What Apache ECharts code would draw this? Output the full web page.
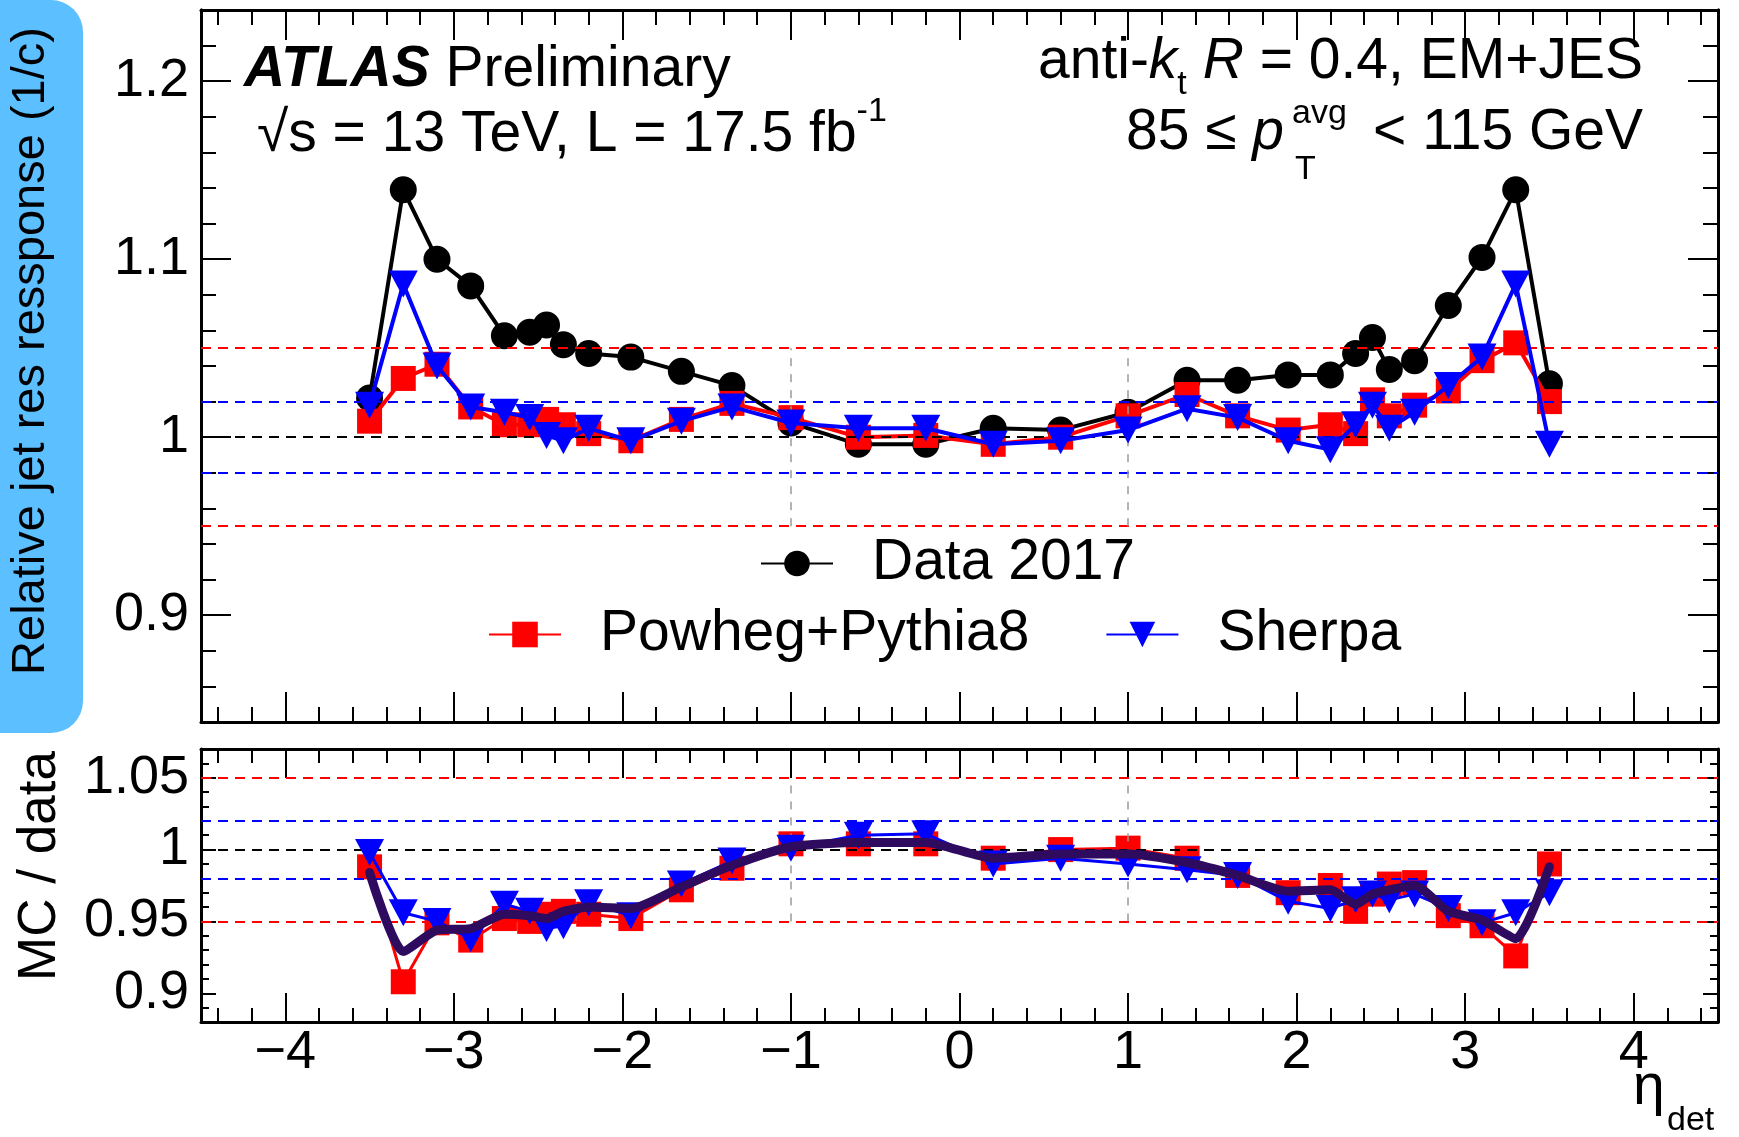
<!DOCTYPE html>
<html>
<head>
<meta charset="utf-8">
<script src="https://cdn.jsdelivr.net/npm/echarts@6/dist/echarts.min.js"></script>
<style>
html,body{margin:0;padding:0;background:#fff;}
#chart{width:1739px;height:1137px;}
</style>
</head>
<body>
<div id="chart"></div>
<script>
// ---------------- data ----------------
const etaBins = [-3.5,-3.3,-3.1,-2.9,-2.7,-2.55,-2.45,-2.35,-2.2,-1.95,-1.65,-1.35,-1.0,-0.6,-0.2,
                 0.2,0.6,1.0,1.35,1.65,1.95,2.2,2.35,2.45,2.55,2.7,2.9,3.1,3.3,3.5];
const data2017 = [1.022,1.139,1.100,1.085,1.057,1.059,1.063,1.052,1.047,1.045,1.037,1.029,1.008,0.996,0.996,
                  1.005,1.004,1.014,1.032,1.032,1.035,1.035,1.047,1.056,1.038,1.043,1.074,1.101,1.139,1.030];
const powheg = [1.009,1.033,1.041,1.017,1.007,1.007,1.010,1.007,1.002,0.998,1.010,1.019,1.011,1.000,1.001,
                0.996,1.000,1.012,1.024,1.012,1.004,1.007,1.002,1.021,1.012,1.018,1.026,1.043,1.053,1.020];
const sherpa = [1.018,1.086,1.040,1.017,1.014,1.011,1.001,0.998,1.005,0.998,1.009,1.017,1.008,1.005,1.005,
                0.996,0.998,1.004,1.016,1.011,0.998,0.993,1.007,1.018,1.005,1.014,1.029,1.045,1.086,0.996];
const ratioPowheg = [0.988,0.908,0.949,0.937,0.952,0.950,0.955,0.957,0.955,0.952,0.972,0.987,1.004,1.004,1.004,
                     0.994,1.000,1.001,0.994,0.982,0.970,0.975,0.957,0.969,0.976,0.977,0.954,0.947,0.926,0.990];
const ratioSherpa = [0.998,0.956,0.950,0.938,0.962,0.957,0.945,0.947,0.963,0.954,0.976,0.992,1.001,1.010,1.011,
                     0.990,0.994,0.990,0.986,0.982,0.964,0.959,0.965,0.969,0.965,0.969,0.959,0.949,0.956,0.970];
const ratioAverage = [0.984,0.929,0.944,0.945,0.955,0.954,0.952,0.957,0.960,0.959,0.974,0.989,1.002,1.005,1.005,
                      0.994,0.997,0.997,0.991,0.982,0.971,0.972,0.962,0.969,0.972,0.975,0.957,0.951,0.938,0.988];

// reference levels and axis ticks
const refLevels = [1.05, 1.02, 1.0, 0.98, 0.95];
const refColors = ['#ff0000', '#0000ff', '#000000', '#0000ff', '#ff0000'];
const etaMarks = [-1, 1];
const xTickLabels = [-4,-3,-2,-1,0,1,2,3,4];
const yTopTickLabels = [0.9,1.0,1.1,1.2];
const yBotTickLabels = [0.9,0.95,1.0,1.05];

const xMinorTicks = [];
for (let i = -22; i <= 22; i++) { if (i % 5 !== 0) xMinorTicks.push(i / 5); }
const yTopMinorTicks = [];
for (let i = 43; i <= 61; i++) { if (i % 5 !== 0) yTopMinorTicks.push(i / 50); }
const yBotMinorTicks = [];
for (let i = 89; i <= 106; i++) { if (i % 5 !== 0) yBotMinorTicks.push(i / 100); }

const pair = (xs, ys) => xs.map((x, i) => [x, ys[i]]);

// ---------------- style ----------------
const FONT = "'Liberation Sans', Arial, Helvetica, sans-serif";
const FS = 57;
const X_RANGE = [-4.5, 4.5];
const Y_TOP = [0.84, 1.24];
const Y_BOT = [0.88, 1.07];
const triDown = 'path://M0,0 L10,0 L5,9 Z';

function xAx(grid, pos, ticks, len, labels) {
  return {
    type: 'value', gridIndex: grid, position: pos, min: X_RANGE[0], max: X_RANGE[1],
    axisLine: { show: !!(len > 20), onZero: false, lineStyle: { color: '#000', width: 3 } },
    axisTick: { show: true, inside: true, length: len, customValues: ticks, lineStyle: { color: '#000', width: 2 } },
    axisLabel: labels ? {
      show: true, customValues: ticks, margin: 4, color: '#000', fontSize: 54, fontFamily: FONT,
      formatter: v => (v < 0 ? '\u2212' + Math.abs(v) : String(v))
    } : { show: false },
    splitLine: { show: false }
  };
}
function yAx(grid, pos, range, ticks, len, labels) {
  return {
    type: 'value', gridIndex: grid, position: pos, min: range[0], max: range[1],
    axisLine: { show: !!(len > 12), onZero: false, lineStyle: { color: '#000', width: 3 } },
    axisTick: { show: true, inside: true, length: len, customValues: ticks, lineStyle: { color: '#000', width: 2 } },
    axisLabel: labels ? {
      show: true, customValues: ticks, margin: 12, color: '#000', fontSize: 54, fontFamily: FONT,
      formatter: v => String(v)
    } : { show: false },
    splitLine: { show: false }
  };
}

function refSeries(xi, yi) {
  const lines = refLevels.map((v, i) => ({
    yAxis: v, lineStyle: { color: refColors[i], type: [10, 7], width: 2 }
  }));
  etaMarks.forEach(e => {
    lines.push([
      { coord: [e, refLevels[4]], lineStyle: { color: '#9a9a9a', type: [8, 8], width: 1.5 } },
      { coord: [e, refLevels[0]] }
    ]);
  });
  return {
    type: 'line', name: 'ref' + xi, xAxisIndex: xi, yAxisIndex: yi, data: [], z: 1,
    markLine: { silent: true, symbol: ['none', 'none'], label: { show: false }, animation: false, data: lines }
  };
}

const chart = echarts.init(document.getElementById('chart'), null, { renderer: 'canvas' });

const option = {
  animation: false,
  backgroundColor: '#fff',
  grid: [
    { left: 201, top: 10, width: 1517, height: 712 },
    { left: 201, top: 749, width: 1517, height: 273 }
  ],
  xAxis: [
    xAx(0, 'bottom', xTickLabels, 30, false),
    xAx(0, 'bottom', xMinorTicks, 15, false),
    xAx(0, 'top', xTickLabels, 30, false),
    xAx(0, 'top', xMinorTicks, 15, false),
    xAx(1, 'bottom', xTickLabels, 29, true),
    xAx(1, 'bottom', xMinorTicks, 14, false),
    xAx(1, 'top', xTickLabels, 29, false),
    xAx(1, 'top', xMinorTicks, 14, false)
  ],
  yAxis: [
    yAx(0, 'left', Y_TOP, yTopTickLabels, 30, true),
    yAx(0, 'left', Y_TOP, yTopMinorTicks, 15, false),
    yAx(0, 'right', Y_TOP, yTopTickLabels, 30, false),
    yAx(0, 'right', Y_TOP, yTopMinorTicks, 15, false),
    yAx(1, 'left', Y_BOT, yBotTickLabels, 15, true),
    yAx(1, 'left', Y_BOT, yBotMinorTicks, 8, false),
    yAx(1, 'right', Y_BOT, yBotTickLabels, 15, false),
    yAx(1, 'right', Y_BOT, yBotMinorTicks, 8, false)
  ],
  legend: [
    {
      data: ['Data 2017'], left: 760, top: 535, padding: 0, selectedMode: false,
      itemWidth: 72, itemHeight: 32,
      textStyle: { fontSize: FS, color: '#000', fontFamily: FONT, padding: [0, 0, 0, 34] }
    },
    {
      data: ['Powheg+Pythia8', 'Sherpa'], left: 488, top: 606, padding: 0, selectedMode: false,
      itemWidth: 72, itemHeight: 32, itemGap: 76,
      textStyle: { fontSize: FS, color: '#000', fontFamily: FONT, padding: [0, 0, 0, 34] }
    }
  ],
  series: [
    refSeries(0, 0),
    refSeries(4, 4),
    {
      type: 'line', name: 'Data 2017', xAxisIndex: 0, yAxisIndex: 0, z: 3,
      data: pair(etaBins, data2017), symbol: 'circle', symbolSize: 27,
      lineStyle: { color: '#000', width: 4 }, itemStyle: { color: '#000' }
    },
    {
      type: 'line', name: 'Powheg+Pythia8', xAxisIndex: 0, yAxisIndex: 0, z: 4,
      data: pair(etaBins, powheg), symbol: 'rect', symbolSize: 25,
      lineStyle: { color: '#ff0000', width: 4 }, itemStyle: { color: '#ff0000' }
    },
    {
      type: 'line', name: 'Sherpa', xAxisIndex: 0, yAxisIndex: 0, z: 5,
      data: pair(etaBins, sherpa), symbol: triDown, symbolSize: [29, 27],
      lineStyle: { color: '#0000ff', width: 4 }, itemStyle: { color: '#0000ff' }
    },
    {
      type: 'line', name: 'Powheg+Pythia8 / data', xAxisIndex: 4, yAxisIndex: 4, z: 4,
      data: pair(etaBins, ratioPowheg), symbol: 'rect', symbolSize: 25,
      lineStyle: { color: '#ff0000', width: 3 }, itemStyle: { color: '#ff0000' }
    },
    {
      type: 'line', name: 'Sherpa / data', xAxisIndex: 4, yAxisIndex: 4, z: 5,
      data: pair(etaBins, ratioSherpa), symbol: triDown, symbolSize: [29, 27],
      lineStyle: { color: '#0000ff', width: 3 }, itemStyle: { color: '#0000ff' }
    },
    {
      type: 'line', name: 'MC average / data', xAxisIndex: 4, yAxisIndex: 4, z: 6,
      data: pair(etaBins, ratioAverage), symbol: 'none', smooth: 0.2,
      lineStyle: { color: '#2e0b5e', width: 9, cap: 'round', join: 'round' }
    }
  ],
  graphic: [
    { type: 'rect', left: -40, top: 0, z: 0, silent: true,
      shape: { width: 123, height: 733, r: 32 }, style: { fill: '#5cbfff' } },
    { type: 'text', x: 31, y: 351, rotation: Math.PI / 2, z: 10,
      style: { text: 'Relative jet res ressponse (1/c)', font: '47px ' + FONT, fill: '#000',
               align: 'center', verticalAlign: 'middle' } },
    { type: 'text', x: 40, y: 866, rotation: Math.PI / 2, z: 10,
      style: { text: 'MC / data', font: '53px ' + FONT, fill: '#000', align: 'center', verticalAlign: 'middle' } },
    { type: 'text', x: 244, y: 70, z: 10,
      style: { text: '{b|ATLAS} Preliminary', font: FS + 'px ' + FONT, fill: '#000',
               align: 'left', verticalAlign: 'middle',
               rich: { b: { font: 'italic bold ' + FS + 'px ' + FONT, fill: '#000' } } } },
    { type: 'text', x: 257, y: 135, z: 10,
      style: { text: '\u221As = 13 TeV, L = 17.5 fb{sup|-1}', font: FS + 'px ' + FONT, fill: '#000',
               lineHeight: 80, align: 'left', verticalAlign: 'middle',
               rich: { sup: { font: '34px ' + FONT, fill: '#000', lineHeight: 34, verticalAlign: 'top' } } } },
    { type: 'text', x: 1643, y: 62, z: 10,
      style: { text: 'anti-{i|k}{sub|t} {i|R} = 0.4, EM+JES', font: FS + 'px ' + FONT, fill: '#000',
               lineHeight: 80, align: 'right', verticalAlign: 'middle',
               rich: {
                 i: { font: 'italic ' + FS + 'px ' + FONT, fill: '#000', lineHeight: 80 },
                 sub: { font: '34px ' + FONT, fill: '#000', lineHeight: 34, verticalAlign: 'bottom' }
               } } },
    { type: 'text', x: 1126, y: 133, z: 10,
      style: { text: '85 \u2264 {i|p}', font: FS + 'px ' + FONT, fill: '#000', align: 'left', verticalAlign: 'middle',
               rich: { i: { font: 'italic ' + FS + 'px ' + FONT, fill: '#000' } } } },
    { type: 'text', x: 1292, y: 114, z: 10,
      style: { text: 'avg', font: '34px ' + FONT, fill: '#000', align: 'left', verticalAlign: 'middle' } },
    { type: 'text', x: 1295, y: 170, z: 10,
      style: { text: 'T', font: '34px ' + FONT, fill: '#000', align: 'left', verticalAlign: 'middle' } },
    { type: 'text', x: 1643, y: 133, z: 10,
      style: { text: '< 115 GeV', font: FS + 'px ' + FONT, fill: '#000', align: 'right', verticalAlign: 'middle' } },
    { type: 'text', x: 1633, y: 1088, z: 10,
      style: { text: '\u03B7', font: FS + 'px ' + FONT, fill: '#000', align: 'left', verticalAlign: 'middle' } },
    { type: 'text', x: 1667, y: 1121, z: 10,
      style: { text: 'det', font: '34px ' + FONT, fill: '#000', align: 'left', verticalAlign: 'middle' } }
  ]
};
chart.setOption(option);
</script>
</body>
</html>
